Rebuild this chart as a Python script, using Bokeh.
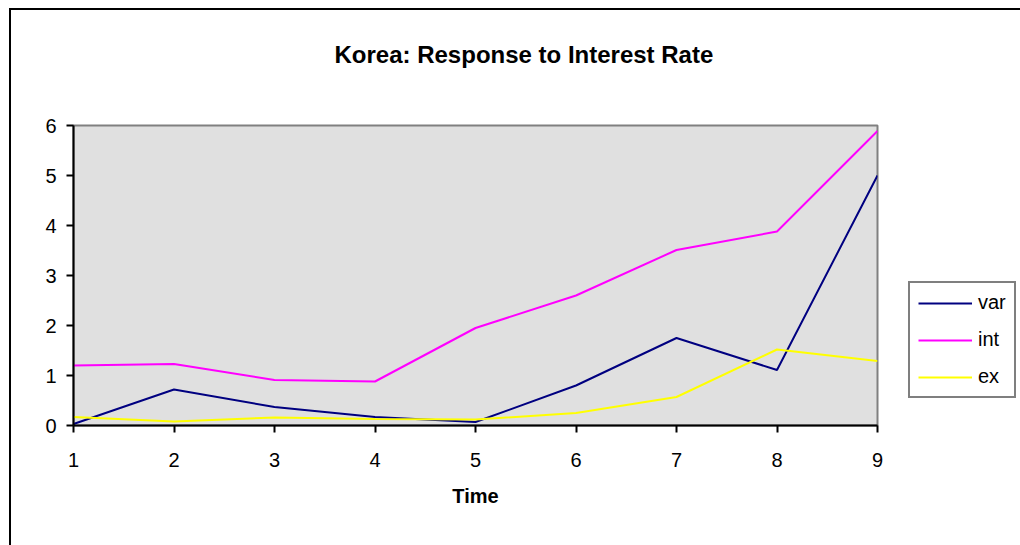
from bokeh.plotting import figure
from bokeh.models import Range1d, FixedTicker, Legend, LegendItem, Title
from bokeh.embed import file_html
from bokeh.resources import INLINE

# Data
time = [1, 2, 3, 4, 5, 6, 7, 8, 9]
var_vals = [0.03, 0.72, 0.37, 0.17, 0.07, 0.80, 1.75, 1.11, 5.00]
int_vals = [1.20, 1.23, 0.91, 0.88, 1.95, 2.60, 3.51, 3.88, 5.89]
ex_vals = [0.17, 0.08, 0.16, 0.13, 0.12, 0.25, 0.57, 1.52, 1.29]
series_names = ["var", "int", "ex"]
series_colors = ["#000080", "#ff00ff", "#ffff00"]
y_ticks = [0, 1, 2, 3, 4, 5, 6]
title_text = "Korea: Response to Interest Rate"
x_label = "Time"

FONT = "Liberation Sans"
FRAME_W, FRAME_H = 804, 300

p = figure(
    width=1005, height=535,
    frame_width=FRAME_W, frame_height=FRAME_H,
    min_border_left=62, min_border_top=115,
    min_border_right=139, min_border_bottom=120,
    x_range=Range1d(1, 9), y_range=Range1d(0, 6),
    output_backend="svg", toolbar_location=None,
    background_fill_color="#e0e0e0",
    border_fill_color="white",
)
p.margin = (8, 0, 0, 9)
p.styles = {"border-left": "2px solid black", "border-top": "2px solid black"}

p.xgrid.visible = False
p.ygrid.visible = False
p.outline_line_color = "#808080"
p.outline_line_width = 2

for ax in (p.xaxis[0], p.yaxis[0]):
    ax.axis_line_color = "black"
    ax.axis_line_width = 2
    ax.major_tick_line_color = "black"
    ax.major_tick_line_width = 2
    ax.minor_tick_line_color = None
    ax.major_label_text_font = FONT
    ax.major_label_text_font_size = "20px"
    ax.major_label_text_color = "black"

p.xaxis.ticker = FixedTicker(ticks=time)
p.xaxis.major_tick_in = 0
p.xaxis.major_tick_out = 7
p.xaxis.major_label_standoff = 20
p.xaxis.axis_label = x_label
p.xaxis.axis_label_text_font = FONT
p.xaxis.axis_label_text_font_size = "20px"
p.xaxis.axis_label_text_font_style = "bold"
p.xaxis.axis_label_text_color = "black"
p.xaxis.axis_label_standoff = 15

p.yaxis.ticker = FixedTicker(ticks=y_ticks)
p.yaxis.major_tick_in = 0
p.yaxis.major_tick_out = 7
p.yaxis.major_label_standoff = 10

# title: blank trailing lines lift it well above the plot area;
# it is centred over the whole chart area, which extends past the window
p.title = Title(text=title_text + "\n \n ", align="left", offset=261,
                text_font=FONT, text_font_size="24px", text_font_style="bold",
                text_color="black", standoff=8)

items = []
for name, vals, col in zip(series_names, [var_vals, int_vals, ex_vals], series_colors):
    r = p.line(time, vals, line_color=col, line_width=2)
    items.append(LegendItem(label=name, renderers=[r]))

legend = Legend(
    items=items, location=(31, 27),
    label_text_font=FONT, label_text_font_size="20px",
    label_text_color="black",
    glyph_width=54, glyph_height=22, label_height=22,
    spacing=14, padding=8, margin=0, label_standoff=6,
    border_line_color="black", border_line_width=2,
    background_fill_color="white", background_fill_alpha=1,
)
p.add_layout(legend, "right")

open("out.html", "w").write(file_html(p, INLINE))
